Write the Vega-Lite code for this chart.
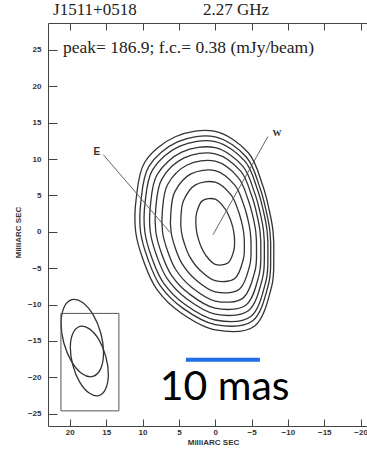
{
  "$schema": "https://vega.github.io/schema/vega-lite/v6.json",
  "width": 319,
  "height": 403,
  "autosize": {"type": "none"},
  "padding": {"left": 48, "top": 23, "right": 0, "bottom": 24},
  "background": "white",
  "config": {
    "view": {"stroke": null},
    "axis": {
      "grid": false,
      "domainColor": "#444",
      "tickColor": "#444",
      "labelFont": "Liberation Sans",
      "labelFontWeight": "bold",
      "labelFontSize": 8,
      "labelColor": "#333",
      "titleFont": "Liberation Sans",
      "titleFontWeight": "bold",
      "titleFontSize": 8,
      "titleColor": "#333"
    }
  },
  "resolve": {"axis": {"x": "independent", "y": "independent"}},
  "datasets": {
    "contours": [
      {"c":"c1","i":0,"x":0,"y":4.48},{"c":"c1","i":1,"x":-1.34,"y":3.18},{"c":"c1","i":2,"x":-1.98,"y":1.95},{"c":"c1","i":3,"x":-2.33,"y":0.95},{"c":"c1","i":4,"x":-2.55,"y":0},{"c":"c1","i":5,"x":-2.66,"y":-1.09},{"c":"c1","i":6,"x":-2.57,"y":-2.53},{"c":"c1","i":7,"x":-1.79,"y":-4.25},{"c":"c1","i":8,"x":0,"y":-4.48},{"c":"c1","i":9,"x":1.34,"y":-3.18},{"c":"c1","i":10,"x":1.98,"y":-1.95},{"c":"c1","i":11,"x":2.33,"y":-0.95},{"c":"c1","i":12,"x":2.55,"y":0},{"c":"c1","i":13,"x":2.66,"y":1.09},{"c":"c1","i":14,"x":2.57,"y":2.53},{"c":"c1","i":15,"x":1.79,"y":4.25},
      {"c":"c2","i":0,"x":0,"y":6.81},{"c":"c2","i":1,"x":-2.15,"y":5.10},{"c":"c2","i":2,"x":-3.11,"y":3.07},{"c":"c2","i":3,"x":-3.60,"y":1.47},{"c":"c2","i":4,"x":-3.90,"y":0},{"c":"c2","i":5,"x":-4.01,"y":-1.64},{"c":"c2","i":6,"x":-3.86,"y":-3.81},{"c":"c2","i":7,"x":-2.70,"y":-6.42},{"c":"c2","i":8,"x":0,"y":-6.73},{"c":"c2","i":9,"x":2.18,"y":-5.18},{"c":"c2","i":10,"x":3.49,"y":-3.44},{"c":"c2","i":11,"x":4.21,"y":-1.72},{"c":"c2","i":12,"x":4.65,"y":0},{"c":"c2","i":13,"x":4.72,"y":1.93},{"c":"c2","i":14,"x":4.35,"y":4.29},{"c":"c2","i":15,"x":2.72,"y":6.45},
      {"c":"c3","i":0,"x":0,"y":8.39},{"c":"c3","i":1,"x":-2.69,"y":6.41},{"c":"c3","i":2,"x":-3.88,"y":3.83},{"c":"c3","i":3,"x":-4.47,"y":1.82},{"c":"c3","i":4,"x":-4.82,"y":0},{"c":"c3","i":5,"x":-4.93,"y":-2.02},{"c":"c3","i":6,"x":-4.74,"y":-4.67},{"c":"c3","i":7,"x":-3.32,"y":-7.90},{"c":"c3","i":8,"x":0,"y":-8.26},{"c":"c3","i":9,"x":2.75,"y":-6.54},{"c":"c3","i":10,"x":4.52,"y":-4.46},{"c":"c3","i":11,"x":5.49,"y":-2.24},{"c":"c3","i":12,"x":6.07,"y":0},{"c":"c3","i":13,"x":6.11,"y":2.50},{"c":"c3","i":14,"x":5.56,"y":5.48},{"c":"c3","i":15,"x":3.34,"y":7.95},
      {"c":"c4","i":0,"x":0,"y":9.70},{"c":"c4","i":1,"x":-3.14,"y":7.48},{"c":"c4","i":2,"x":-4.52,"y":4.45},{"c":"c4","i":3,"x":-5.18,"y":2.11},{"c":"c4","i":4,"x":-5.58,"y":0},{"c":"c4","i":5,"x":-5.68,"y":-2.33},{"c":"c4","i":6,"x":-5.47,"y":-5.39},{"c":"c4","i":7,"x":-3.83,"y":-9.12},{"c":"c4","i":8,"x":0,"y":-9.52},{"c":"c4","i":9,"x":3.22,"y":-7.65},{"c":"c4","i":10,"x":5.37,"y":-5.29},{"c":"c4","i":11,"x":6.54,"y":-2.67},{"c":"c4","i":12,"x":7.25,"y":0},{"c":"c4","i":13,"x":7.26,"y":2.97},{"c":"c4","i":14,"x":6.56,"y":6.47},{"c":"c4","i":15,"x":3.86,"y":9.18},
      {"c":"c5","i":0,"x":0,"y":10.72},{"c":"c5","i":1,"x":-3.50,"y":8.33},{"c":"c5","i":2,"x":-5.02,"y":4.94},{"c":"c5","i":3,"x":-5.74,"y":2.34},{"c":"c5","i":4,"x":-6.17,"y":0},{"c":"c5","i":5,"x":-6.28,"y":-2.57},{"c":"c5","i":6,"x":-6.03,"y":-5.95},{"c":"c5","i":7,"x":-4.24,"y":-10.07},{"c":"c5","i":8,"x":0,"y":-10.51},{"c":"c5","i":9,"x":3.58,"y":-8.53},{"c":"c5","i":10,"x":6.03,"y":-5.95},{"c":"c5","i":11,"x":7.37,"y":-3.01},{"c":"c5","i":12,"x":8.17,"y":0},{"c":"c5","i":13,"x":8.17,"y":3.34},{"c":"c5","i":14,"x":7.34,"y":7.24},{"c":"c5","i":15,"x":4.27,"y":10.15},
      {"c":"c6","i":0,"x":0,"y":11.56},{"c":"c6","i":1,"x":-3.79,"y":9.02},{"c":"c6","i":2,"x":-5.42,"y":5.35},{"c":"c6","i":3,"x":-6.20,"y":2.53},{"c":"c6","i":4,"x":-6.66,"y":0},{"c":"c6","i":5,"x":-6.76,"y":-2.77},{"c":"c6","i":6,"x":-6.50,"y":-6.41},{"c":"c6","i":7,"x":-4.56,"y":-10.85},{"c":"c6","i":8,"x":0,"y":-11.32},{"c":"c6","i":9,"x":3.89,"y":-9.25},{"c":"c6","i":10,"x":6.58,"y":-6.49},{"c":"c6","i":11,"x":8.05,"y":-3.29},{"c":"c6","i":12,"x":8.93,"y":0},{"c":"c6","i":13,"x":8.91,"y":3.64},{"c":"c6","i":14,"x":7.98,"y":7.87},{"c":"c6","i":15,"x":4.60,"y":10.95},
      {"c":"c7","i":0,"x":0,"y":12.40},{"c":"c7","i":1,"x":-4.08,"y":9.71},{"c":"c7","i":2,"x":-5.83,"y":5.75},{"c":"c7","i":3,"x":-6.66,"y":2.72},{"c":"c7","i":4,"x":-7.15,"y":0},{"c":"c7","i":5,"x":-7.25,"y":-2.97},{"c":"c7","i":6,"x":-6.96,"y":-6.87},{"c":"c7","i":7,"x":-4.89,"y":-11.64},{"c":"c7","i":8,"x":0,"y":-12.13},{"c":"c7","i":9,"x":4.19,"y":-9.97},{"c":"c7","i":10,"x":7.12,"y":-7.02},{"c":"c7","i":11,"x":8.72,"y":-3.57},{"c":"c7","i":12,"x":9.68,"y":0},{"c":"c7","i":13,"x":9.65,"y":3.95},{"c":"c7","i":14,"x":8.62,"y":8.51},{"c":"c7","i":15,"x":4.94,"y":11.74},
      {"c":"c8","i":0,"x":0,"y":13.05},{"c":"c8","i":1,"x":-4.30,"y":10.25},{"c":"c8","i":2,"x":-6.15,"y":6.06},{"c":"c8","i":3,"x":-7.01,"y":2.86},{"c":"c8","i":4,"x":-7.53,"y":0},{"c":"c8","i":5,"x":-7.63,"y":-3.12},{"c":"c8","i":6,"x":-7.33,"y":-7.22},{"c":"c8","i":7,"x":-5.15,"y":-12.24},{"c":"c8","i":8,"x":0,"y":-12.76},{"c":"c8","i":9,"x":4.42,"y":-10.53},{"c":"c8","i":10,"x":7.55,"y":-7.44},{"c":"c8","i":11,"x":9.25,"y":-3.78},{"c":"c8","i":12,"x":10.27,"y":0},{"c":"c8","i":13,"x":10.22,"y":4.18},{"c":"c8","i":14,"x":9.12,"y":9.00},{"c":"c8","i":15,"x":5.19,"y":12.36},
      {"c":"c9","i":0,"x":0,"y":13.80},{"c":"c9","i":1,"x":-4.56,"y":10.86},{"c":"c9","i":2,"x":-6.51,"y":6.42},{"c":"c9","i":3,"x":-7.42,"y":3.03},{"c":"c9","i":4,"x":-7.96,"y":0},{"c":"c9","i":5,"x":-8.06,"y":-3.30},{"c":"c9","i":6,"x":-7.74,"y":-7.63},{"c":"c9","i":7,"x":-5.44,"y":-12.94},{"c":"c9","i":8,"x":0,"y":-13.48},{"c":"c9","i":9,"x":4.69,"y":-11.17},{"c":"c9","i":10,"x":8.03,"y":-7.92},{"c":"c9","i":11,"x":9.85,"y":-4.03},{"c":"c9","i":12,"x":10.94,"y":0},{"c":"c9","i":13,"x":10.88,"y":4.45},{"c":"c9","i":14,"x":9.69,"y":9.56},{"c":"c9","i":15,"x":5.49,"y":13.06},
      {"c":"b1","i":0,"x":19.72,"y":-9.34},{"c":"b1","i":1,"x":18.25,"y":-9.71},{"c":"b1","i":2,"x":16.80,"y":-11.39},{"c":"b1","i":3,"x":15.73,"y":-13.95},{"c":"b1","i":4,"x":15.36,"y":-16.68},{"c":"b1","i":5,"x":15.76,"y":-18.85},{"c":"b1","i":6,"x":16.84,"y":-19.89},{"c":"b1","i":7,"x":18.31,"y":-19.52},{"c":"b1","i":8,"x":19.76,"y":-17.84},{"c":"b1","i":9,"x":20.82,"y":-15.29},{"c":"b1","i":10,"x":21.20,"y":-12.55},{"c":"b1","i":11,"x":20.79,"y":-10.38},
      {"c":"b2","i":0,"x":18.60,"y":-13.01},{"c":"b2","i":1,"x":17.30,"y":-13.35},{"c":"b2","i":2,"x":15.98,"y":-14.86},{"c":"b2","i":3,"x":15.04,"y":-17.16},{"c":"b2","i":4,"x":14.70,"y":-19.62},{"c":"b2","i":5,"x":15.06,"y":-21.57},{"c":"b2","i":6,"x":16.02,"y":-22.51},{"c":"b2","i":7,"x":17.33,"y":-22.17},{"c":"b2","i":8,"x":18.64,"y":-20.66},{"c":"b2","i":9,"x":19.58,"y":-18.36},{"c":"b2","i":10,"x":19.93,"y":-15.90},{"c":"b2","i":11,"x":19.57,"y":-13.95}
    ],
    "box": [{"x": 21.22, "x2": 13.25, "y": -11.22, "y2": -24.62}],
    "leaders": [
      {"x": 15.4, "y": 10.6, "x2": 6.2, "y2": -0.1},
      {"x": -7.25, "y": 13.1, "x2": 0.3, "y2": -0.4}
    ],
    "scalebar": [{"x": 4.03, "x2": -6.15, "y": -17.6}],
    "labelE": [{"x": 16.3, "y": 11.0, "t": "E"}],
    "labelW": [{"x": -8.5, "y": 13.6, "t": "W"}],
    "mas": [{"x": -1.3, "y": -23.1, "t": "10 mas"}],
    "titles": [
      {"x": 16.55, "y": 30.5, "t": "J1511+0518"},
      {"x": -2.85, "y": 30.5, "t": "2.27 GHz"}
    ],
    "peak": [{"x": 20.95, "y": 25.2, "t": "peak= 186.9; f.c.= 0.38 (mJy/beam)"}]
  },
  "encoding": {
    "x": {"field": "x", "type": "quantitative", "scale": {"domain": [23.0, -20.88], "nice": false, "zero": false}, "axis": null},
    "y": {"field": "y", "type": "quantitative", "scale": {"domain": [-26.7, 28.7], "nice": false, "zero": false}, "axis": null}
  },
  "layer": [
    {
      "data": {"name": "contours"},
      "mark": {"type": "line", "interpolate": "cardinal-closed", "stroke": "#333", "strokeWidth": 1.3},
      "encoding": {
        "x": {"field": "x", "type": "quantitative", "scale": {"domain": [23.0, -20.88], "nice": false, "zero": false},
              "axis": {"orient": "bottom", "values": [20, 15, 10, 5, 0, -5, -10, -15, -20], "title": "MilliARC SEC", "tickSize": -7, "labelPadding": 9, "titlePadding": 2, "titleX": 165}},
        "y": {"field": "y", "type": "quantitative", "scale": {"domain": [-26.7, 28.7], "nice": false, "zero": false},
              "axis": {"orient": "left", "values": [25, 20, 15, 10, 5, 0, -5, -10, -15, -20, -25], "title": "MilliARC SEC", "tickSize": -9, "labelPadding": 16, "titleX": -26, "titleY": 209}},
        "detail": {"field": "c", "type": "nominal"},
        "order": {"field": "i", "type": "quantitative"}
      }
    },
    {
      "data": {"name": "box"},
      "mark": {"type": "rect", "fill": null, "fillOpacity": 0, "stroke": "#555", "strokeWidth": 1},
      "encoding": {
        "x": {"field": "x", "type": "quantitative", "scale": {"domain": [23.0, -20.88], "nice": false, "zero": false},
              "axis": {"orient": "top", "values": [20, 15, 10, 5, 0, -5, -10, -15, -20], "labels": false, "title": null, "tickSize": -7}},
        "x2": {"field": "x2"},
        "y2": {"field": "y2"}
      }
    },
    {
      "data": {"name": "leaders"},
      "mark": {"type": "rule", "stroke": "#555", "strokeWidth": 0.9},
      "encoding": {"x2": {"field": "x2"}, "y2": {"field": "y2"}}
    },
    {
      "data": {"name": "scalebar"},
      "mark": {"type": "rule", "stroke": "#1f6fe8", "strokeWidth": 4},
      "encoding": {"x2": {"field": "x2"}}
    },
    {
      "data": {"name": "labelE"},
      "mark": {"type": "text", "font": "Liberation Sans", "fontSize": 10, "fontWeight": "bold", "color": "#333"},
      "encoding": {"text": {"field": "t"}}
    },
    {
      "data": {"name": "labelW"},
      "mark": {"type": "text", "font": "Liberation Serif", "fontSize": 9, "fontWeight": "bold", "color": "#333"},
      "encoding": {"text": {"field": "t"}}
    },
    {
      "data": {"name": "mas"},
      "mark": {"type": "text", "font": "Lato", "fontSize": 41, "color": "#000", "baseline": "alphabetic"},
      "encoding": {"text": {"field": "t"}}
    },
    {
      "data": {"name": "titles"},
      "mark": {"type": "text", "font": "Liberation Serif", "fontSize": 17, "color": "#222", "baseline": "middle"},
      "encoding": {"text": {"field": "t"}}
    },
    {
      "data": {"name": "peak"},
      "mark": {"type": "text", "font": "Liberation Serif", "fontSize": 17.5, "color": "#222", "align": "left", "baseline": "middle"},
      "encoding": {"text": {"field": "t"}}
    }
  ]
}
